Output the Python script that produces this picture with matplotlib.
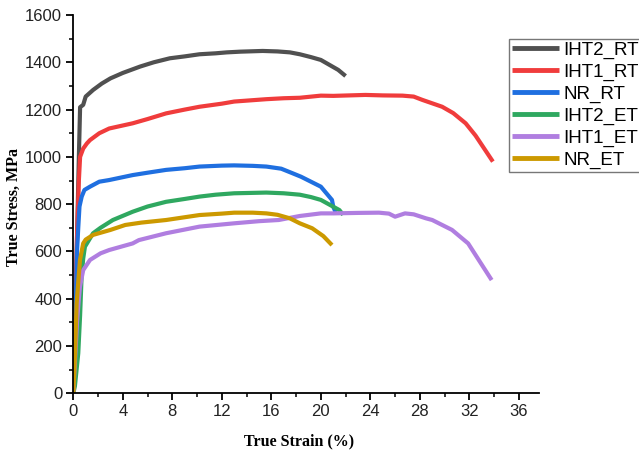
import matplotlib
matplotlib.use("Agg")
import matplotlib.pyplot as plt
from matplotlib.ticker import MultipleLocator

# ---- data (strain %, stress MPa) ----
iht2_rt_x = [0, 0.15, 0.3, 0.45, 0.55, 0.8, 1.0, 1.6, 2.3, 3.0, 4.0, 5.4, 6.5, 7.8, 9.0, 10.2, 11.5, 12.4, 13.5, 15.3, 16.5, 17.5, 18.3, 19.2, 20.0, 20.7, 21.4, 22.0]
iht2_rt_y = [0, 300, 650, 1000, 1210, 1220, 1255, 1283, 1310, 1332, 1355, 1382, 1400, 1417, 1425, 1434, 1438, 1442, 1445, 1448, 1446, 1442, 1434, 1422, 1410, 1389, 1368, 1342]

iht1_rt_x = [0, 0.15, 0.3, 0.45, 0.55, 0.8, 1.1, 1.35, 2.1, 2.9, 4.8, 6.0, 7.5, 9.0, 10.2, 12.0, 13.0, 15.6, 17.0, 18.3, 20.0, 21.0, 23.6, 25.0, 26.6, 27.5, 28.2, 29.8, 30.7, 31.7, 32.5, 33.9]
iht1_rt_y = [0, 300, 662, 900, 1000, 1035, 1057, 1071, 1100, 1120, 1142, 1160, 1184, 1200, 1212, 1225, 1234, 1244, 1248, 1250, 1259, 1258, 1262, 1260, 1259, 1255, 1241, 1212, 1185, 1142, 1090, 980]

nr_rt_x = [0, 0.15, 0.3, 0.4, 0.5, 0.68, 0.9, 1.35, 2.1, 2.9, 4.8, 6.0, 7.5, 9.0, 10.2, 12.0, 13.0, 14.5, 15.6, 16.8, 17.7, 18.4, 19.2, 20.0, 20.9, 21.0, 21.2]
nr_rt_y = [0, 250, 600, 700, 790, 832, 860, 874, 895, 902, 923, 933, 945, 952, 959, 963, 964, 962, 959, 950, 931, 916, 895, 874, 818, 790, 765]

iht2_et_x = [0, 0.13, 0.4, 0.55, 0.67, 0.8, 0.94, 1.6, 2.2, 3.2, 4.8, 6.0, 7.5, 9.0, 10.2, 11.5, 13.0, 15.6, 17.0, 18.3, 19.2, 20.0, 20.8, 21.5, 21.8]
iht2_et_y = [0, 30, 169, 330, 493, 570, 620, 677, 700, 733, 768, 790, 810, 822, 832, 840, 846, 849, 846, 840, 830, 818, 795, 775, 755]

iht1_et_x = [0, 0.15, 0.3, 0.45, 0.54, 0.8, 1.35, 2.2, 2.9, 4.8, 5.3, 7.5, 10.2, 13.0, 15.0, 16.6, 18.3, 20.0, 21.0, 23.0, 24.7, 25.5, 26.0, 26.8, 27.5, 28.5, 29.0, 30.6, 31.9, 33.8]
iht1_et_y = [0, 150, 300, 400, 451, 521, 564, 592, 606, 634, 648, 677, 705, 719, 728, 733, 750, 761, 761, 763, 764, 760, 747, 761, 757, 740, 733, 691, 634, 479]

nr_et_x = [0, 0.14, 0.27, 0.54, 0.8, 1.0, 1.6, 3.0, 4.2, 5.5, 7.5, 10.2, 12.0, 13.0, 14.5, 15.6, 16.5, 17.5, 18.3, 19.3, 20.2, 20.9]
nr_et_y = [0, 169, 381, 564, 634, 650, 670, 691, 712, 722, 733, 754, 760, 764, 764, 761, 755, 740, 719, 698, 665, 627]

labels = ["IHT2_RT", "IHT1_RT", "NR_RT", "IHT2_ET", "IHT1_ET", "NR_ET"]
colors = ["#505050", "#f03c3c", "#1f6fe0", "#2fa860", "#b07ee0", "#cc9900"]
series = [(iht2_rt_x, iht2_rt_y), (iht1_rt_x, iht1_rt_y), (nr_rt_x, nr_rt_y),
          (iht2_et_x, iht2_et_y), (iht1_et_x, iht1_et_y), (nr_et_x, nr_et_y)]

fig = plt.figure(figsize=(6.39, 4.55), dpi=100)
ax = fig.add_axes([0.1147, 0.1356, 0.843 - 0.1147, 0.967 - 0.1356])

for (x, y), lab, c in zip(series, labels, colors):
    ax.plot(x, y, color=c, lw=3, label=lab, solid_capstyle="butt")

ax.set_xlim(0, 37.6)
ax.set_ylim(0, 1600)
ax.xaxis.set_major_locator(MultipleLocator(4))
ax.xaxis.set_minor_locator(MultipleLocator(2))
ax.yaxis.set_major_locator(MultipleLocator(200))
ax.yaxis.set_minor_locator(MultipleLocator(100))
ax.spines["top"].set_visible(False)
ax.spines["right"].set_visible(False)
for s in ("left", "bottom"):
    ax.spines[s].set_linewidth(1.3)
ax.tick_params(which="major", direction="out", length=5, width=1.3, labelsize=12, pad=3)
ax.tick_params(which="minor", direction="out", length=3, width=1.1)
for lbl in ax.get_xticklabels() + ax.get_yticklabels():
    lbl.set_fontfamily("Liberation Sans")
    lbl.set_color("#222222")

fig.text(299 / 639, 1 - 441 / 455, "True Strain (%)", fontfamily="Liberation Serif",
         fontweight="bold", fontsize=11.5, ha="center", va="center")
fig.text(14 / 639, 1 - 207 / 455, "True Stress, MPa", fontfamily="Liberation Serif",
         fontweight="bold", fontsize=11.5, ha="center", va="center", rotation=90)

leg = fig.legend(loc="upper left", bbox_to_anchor=(509 / 639, 1 - 39 / 455),
                 prop={"family": "Liberation Sans", "size": 13.5},
                 handlelength=2.5, handletextpad=0.25, labelspacing=0.25,
                 borderpad=0.15, borderaxespad=0, frameon=True, fancybox=False)
leg.get_frame().set_edgecolor("#555555")
leg.get_frame().set_linewidth(1.0)
for line in leg.get_lines():
    line.set_linewidth(3.5)

fig.savefig("out.png", dpi=100)
